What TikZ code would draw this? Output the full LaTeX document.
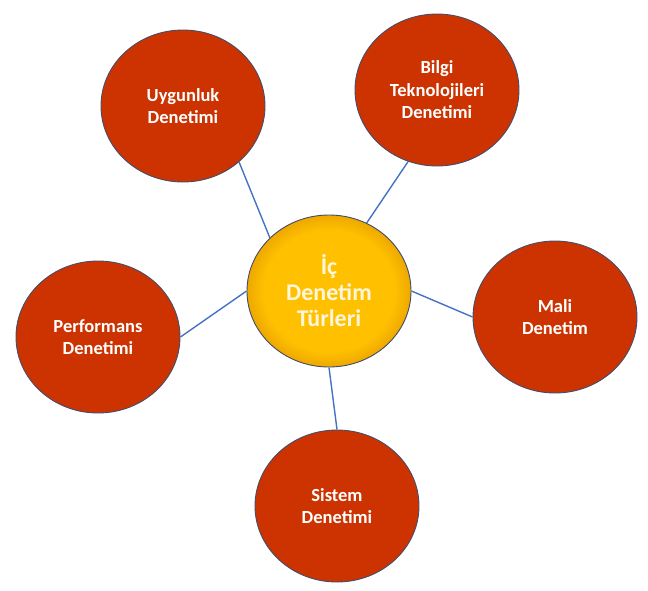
\documentclass[tikz,border=0pt]{standalone}
\usepackage{fontspec}
\setmainfont{Carlito}
\usetikzlibrary{shapes.geometric}
\definecolor{redfill}{RGB}{204,51,0}
\definecolor{edgecol}{RGB}{68,78,108}
\definecolor{linkblue}{RGB}{68,114,196}
\definecolor{ctrin}{RGB}{255,192,0}
\definecolor{ctrout}{RGB}{238,168,0}
\definecolor{ctrtext}{RGB}{255,246,220}
\pgfdeclareradialshading{ctrshade}{\pgfpoint{0bp}{0bp}}{color(0bp)=(ctrin); color(20bp)=(ctrin); color(25bp)=(ctrout); color(50bp)=(ctrout)}
\begin{document}
\begin{tikzpicture}[x=1pt,y=-1pt,
	bubble/.style={ellipse,draw=edgecol,line width=0.9pt,fill=redfill,minimum width=164pt,minimum height=152pt,inner sep=0pt,align=center,text=white,font=\fontsize{18.5}{22.5}\selectfont\bfseries},
	link/.style={draw=linkblue,line width=1.4pt}]
	\useasboundingbox (0,0) rectangle (648,590);
	\node[bubble,shading=ctrshade,font=\fontsize{24}{26}\selectfont\bfseries,text=ctrtext] (ic) at (329,291) {İç\\Denetim\\Türleri};
	\foreach \n/\p/\t in {uyg/{(183,106)}/{Uygunluk\\Denetimi},
		bil/{(437,90)}/{Bilgi\\Teknolojileri\\Denetimi},
		mal/{(555,317)}/{Mali\\Denetim},
		per/{(98,337)}/{Performans\\Denetimi},
		sis/{(337,506)}/{Sistem\\Denetimi}}
		\node[bubble] (\n) at \p {\t};
	\draw[link] (ic.138) -- (uyg.-45)
		(ic.61) -- (bil.-112)
		(ic.0) -- (mal.180)
		(ic.180) -- (per.0)
		(ic.-90) -- (sis.90);
\end{tikzpicture}
\end{document}
